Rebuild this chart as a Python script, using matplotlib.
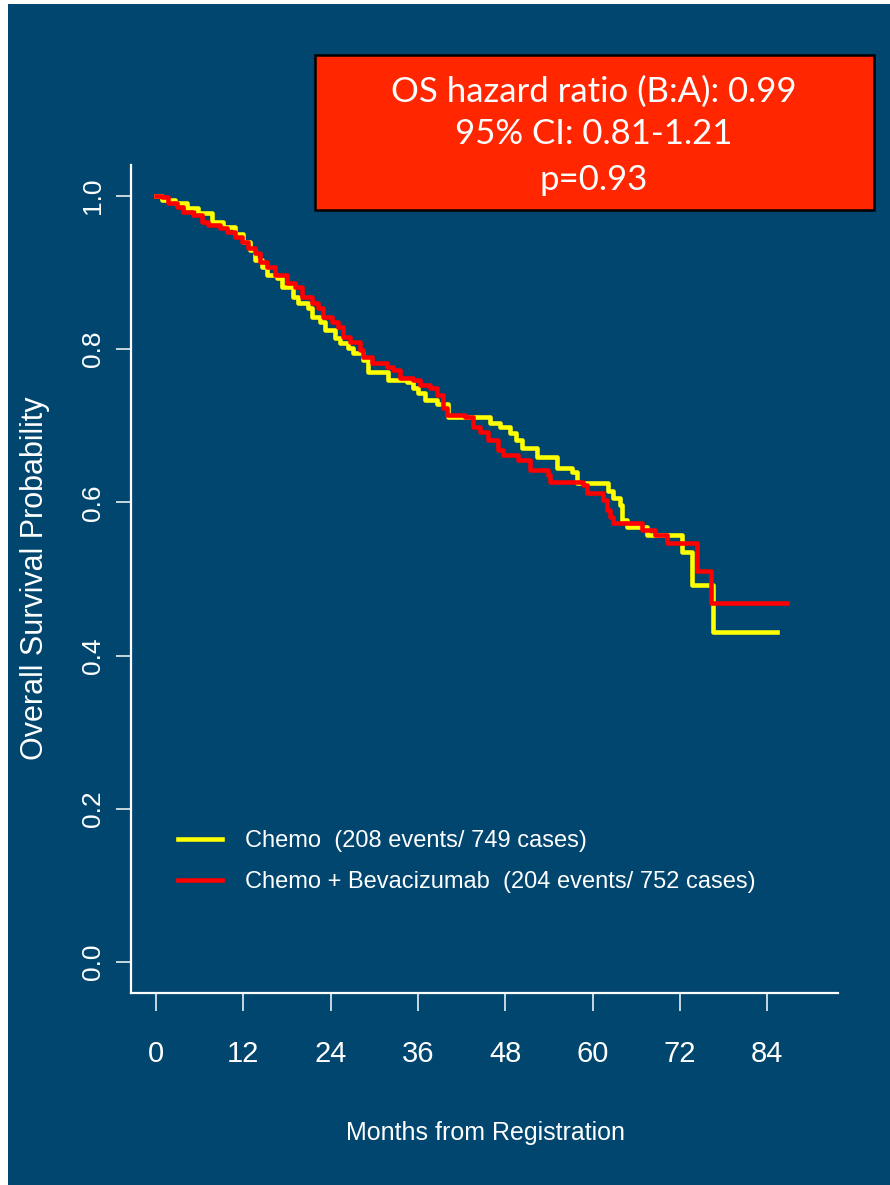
import matplotlib
matplotlib.use('Agg')
import matplotlib.pyplot as plt
from matplotlib.patches import Rectangle

# Curvas de Kaplan-Meier (meses, probabilidad de supervivencia)
chemo_t = [0, 0.8, 2.6, 4.3, 5.8, 7.7, 9.2, 10.9, 12.0, 12.9, 13.6, 14.6, 15.2, 16.6, 17.3,
           18.8, 19.5, 20.9, 21.4, 22.5, 23.2, 24.6, 25.3, 26.4, 27.1, 28.4, 29.1, 31.9,
           34.5, 35.3, 36.0, 36.9, 38.6, 40.1, 45.9, 47.3, 48.6, 49.5, 50.3, 52.3, 55.1,
           57.1, 57.8, 62.1, 62.8, 63.7, 64.0, 64.7, 67.4, 72.3, 73.6, 76.5, 85.3]
chemo_s = [1.0, 0.995, 0.991, 0.984, 0.978, 0.966, 0.960, 0.950, 0.940, 0.930, 0.916, 0.907, 0.897, 0.893, 0.881,
           0.868, 0.860, 0.854, 0.842, 0.836, 0.825, 0.815, 0.808, 0.802, 0.795, 0.786, 0.770, 0.760,
           0.757, 0.749, 0.743, 0.734, 0.728, 0.711, 0.704, 0.698, 0.691, 0.682, 0.671, 0.659, 0.645,
           0.640, 0.625, 0.615, 0.606, 0.597, 0.577, 0.568, 0.557, 0.535, 0.492, 0.431, 0.431]

bev_t = [0, 0.8, 1.6, 2.9, 3.7, 5.1, 6.3, 7.1, 8.8, 9.8, 10.9, 11.8, 12.6, 13.6, 14.3,
         15.2, 16.3, 18.0, 19.1, 20.1, 21.4, 22.3, 22.9, 24.2, 25.0, 25.7, 26.6, 28.0,
         28.4, 29.7, 31.7, 32.6, 33.5, 35.3, 36.3, 37.6, 38.6, 39.4, 40.0, 42.4, 43.5,
         44.5, 45.6, 47.0, 47.7, 49.7, 51.4, 53.8, 54.1, 58.7, 59.2, 61.4, 61.9, 62.4,
         62.8, 66.8, 68.5, 70.2, 74.3, 76.2, 86.7]
bev_s = [1.0, 0.999, 0.991, 0.986, 0.979, 0.975, 0.966, 0.962, 0.958, 0.953, 0.946, 0.940, 0.932, 0.926, 0.914,
         0.907, 0.897, 0.886, 0.881, 0.868, 0.860, 0.854, 0.842, 0.836, 0.829, 0.816, 0.809, 0.799,
         0.790, 0.782, 0.777, 0.773, 0.762, 0.760, 0.753, 0.749, 0.740, 0.723, 0.714, 0.711, 0.698,
         0.692, 0.681, 0.668, 0.662, 0.655, 0.642, 0.636, 0.627, 0.623, 0.612, 0.603, 0.590, 0.581,
         0.573, 0.564, 0.557, 0.547, 0.510, 0.469, 0.469]

labels = ['Chemo  (208 events/ 749 cases)',
          'Chemo + Bevacizumab  (204 events/ 752 cases)']
xticks = [0, 12, 24, 36, 48, 60, 72, 84]
yticks = [0.0, 0.2, 0.4, 0.6, 0.8, 1.0]
box_lines = ['OS hazard ratio (B:A): 0.99', '95% CI: 0.81-1.21', 'p=0.93']

AZUL = '#00466f'
AMARILLO = '#ffff00'
ROJO = '#ff0000'
ROJO_CAJA = '#ff2600'
NARROW = ['Liberation Sans Narrow', 'Liberation Sans', 'DejaVu Sans']
REG = ['Liberation Sans', 'DejaVu Sans']

W, H = 890, 1185
fig = plt.figure(figsize=(W/100, H/100), dpi=100, facecolor='white')
fig.patches.append(Rectangle((8/W, 0), 1, 1 - 4/H, transform=fig.transFigure,
                             facecolor=AZUL, edgecolor='none', zorder=-5))

ax = fig.add_axes([131/W, 1 - 993/H, (838-131)/W, (993-165)/H])
ax.set_facecolor('none')
ax.plot(chemo_t, chemo_s, drawstyle='steps-post', color=AMARILLO, lw=3.3, label=labels[0])
ax.plot(bev_t, bev_s, drawstyle='steps-post', color=ROJO, lw=3.3, label=labels[1])

ax.set_xlim(-3.43, 93.7)
ax.set_ylim(-0.0405, 1.0405)
for s in ['top', 'right']:
    ax.spines[s].set_visible(False)
for s in ['left', 'bottom']:
    ax.spines[s].set_color('white')
    ax.spines[s].set_linewidth(1.6)

ax.set_xticks(xticks)
ax.set_xticklabels([str(v) for v in xticks], family=NARROW, fontsize=21, color='white')
ax.set_yticks(yticks)
ax.set_yticklabels(['%.1f' % v for v in yticks], family=REG, fontsize=19, color='white',
                   rotation=90, va='center')
ax.tick_params(axis='x', length=13, width=1.1, color='white', pad=21)
ax.tick_params(axis='y', length=11, width=1.1, color='white', pad=8)

ax.set_xlabel('Months from Registration', family=NARROW, fontsize=18, color='white')
ax.xaxis.set_label_coords(485/W, 1 - 1121/H, transform=fig.transFigure)
ax.set_ylabel('Overall Survival Probability', family=REG, fontsize=22, color='white')
ax.yaxis.set_label_coords(50/W, 1 - 578/H, transform=fig.transFigure)

leg = ax.legend(loc='upper left', bbox_to_anchor=(178/W, 1 - 830/H), bbox_transform=fig.transFigure,
                frameon=False, prop={'family': NARROW, 'size': 17}, handlelength=1.86,
                handletextpad=0.97, labelspacing=0.8, borderpad=0, borderaxespad=0)
for t in leg.get_texts():
    t.set_color('white')

# Recuadro con el cociente de riesgos
fig.patches.append(Rectangle((315/W, 1 - 210/H), (874-315)/W, (210-55)/H, transform=fig.transFigure,
                             facecolor=ROJO_CAJA, edgecolor='black', linewidth=1.8, zorder=2))
for txt, y in zip(box_lines, [92, 134, 180]):
    fig.text(594/W, 1 - y/H, txt, ha='center', va='center', color='white',
             family=['Lato', 'DejaVu Sans'], fontsize=25, zorder=3)

fig.savefig('out.png', dpi=100, facecolor=fig.get_facecolor())
